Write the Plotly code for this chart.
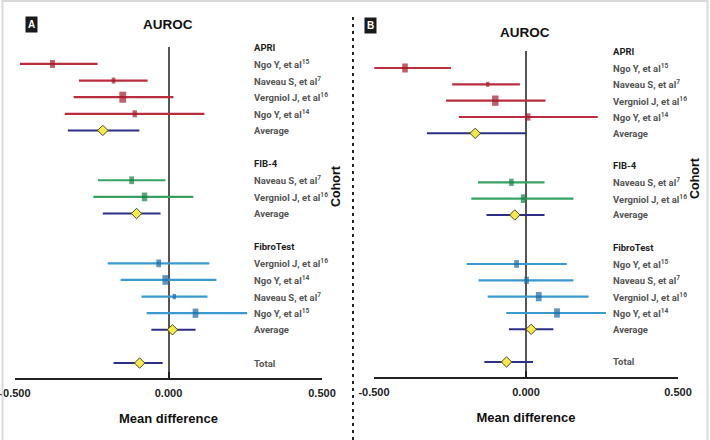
import plotly.graph_objects as go

# ---------------- DATA ----------------
groups = ["APRI", "FIB-4", "FibroTest"]

# Panel A
a_apri_study = ["Ngo Y, et al<sup>15</sup>", "Naveau S, et al<sup>7</sup>", "Vergniol J, et al<sup>16</sup>", "Ngo Y, et al<sup>14</sup>"]
a_apri_est = [-0.378, -0.179, -0.149, -0.110]
a_apri_lo = [-0.484, -0.292, -0.309, -0.338]
a_apri_hi = [-0.231, -0.068, 0.016, 0.117]
a_apri_w = [8, 6, 11, 7]
a_apri_avg = [-0.214, -0.328, -0.095]

a_fib4_study = ["Naveau S, et al<sup>7</sup>", "Vergniol J, et al<sup>16</sup>"]
a_fib4_est = [-0.120, -0.078]
a_fib4_lo = [-0.230, -0.245]
a_fib4_hi = [-0.010, 0.081]
a_fib4_w = [7.7, 8.7]
a_fib4_avg = [-0.104, -0.214, -0.026]

a_ft_study = ["Vergniol J, et al<sup>16</sup>", "Ngo Y, et al<sup>14</sup>", "Naveau S, et al<sup>7</sup>", "Ngo Y, et al<sup>15</sup>"]
a_ft_est = [-0.032, -0.010, 0.019, 0.088]
a_ft_lo = [-0.198, -0.156, -0.088, -0.071]
a_ft_hi = [0.133, 0.156, 0.127, 0.256]
a_ft_w = [7.7, 9.7, 5.3, 9.3]
a_ft_avg = [0.013, -0.056, 0.088]

a_total = [-0.094, -0.179, -0.019]

# Panel B
b_apri_study = ["Ngo Y, et al<sup>15</sup>", "Naveau S, et al<sup>7</sup>", "Vergniol J, et al<sup>16</sup>", "Ngo Y, et al<sup>14</sup>"]
b_apri_est = [-0.398, -0.126, -0.101, 0.007]
b_apri_lo = [-0.499, -0.243, -0.263, -0.221]
b_apri_hi = [-0.247, -0.020, 0.064, 0.236]
b_apri_w = [9, 5, 10.3, 7.3]
b_apri_avg = [-0.167, -0.326, 0.000]

b_fib4_study = ["Naveau S, et al<sup>7</sup>", "Vergniol J, et al<sup>16</sup>"]
b_fib4_est = [-0.048, -0.008]
b_fib4_lo = [-0.158, -0.180]
b_fib4_hi = [0.061, 0.156]
b_fib4_w = [7.3, 8.7]
b_fib4_avg = [-0.037, -0.130, 0.061]

b_ft_study = ["Ngo Y, et al<sup>15</sup>", "Naveau S, et al<sup>7</sup>", "Vergniol J, et al<sup>16</sup>", "Ngo Y, et al<sup>14</sup>"]
b_ft_est = [-0.031, 0.002, 0.042, 0.102]
b_ft_lo = [-0.195, -0.156, -0.126, -0.065]
b_ft_hi = [0.134, 0.156, 0.206, 0.263]
b_ft_w = [7.7, 7.3, 9.3, 9.3]
b_ft_avg = [0.017, -0.056, 0.090]

b_total = [-0.064, -0.137, 0.023]

tick_vals = [-0.5, 0.0, 0.5]
tick_text = ["-0.500", "0.000", "0.500"]

# ---------------- STYLE ----------------
W, H = 710, 440
line_col = {"APRI": "#b92d3c", "FIB-4": "#35a262", "FibroTest": "#3b99d0"}
mark_col = {"APRI": "#a11d2d", "FIB-4": "#1b7f45", "FibroTest": "#1c69a3"}
avg_col = "#2d2f86"
dia_col = "#f6e94a"
NARROW = "Roboto, Liberation Sans, sans-serif"
SANS = "Liberation Sans, Arial, Helvetica, sans-serif"

panels = [
    dict(xa="x", ya="y", data=[
        ("APRI", a_apri_study, a_apri_est, a_apri_lo, a_apri_hi, a_apri_w, a_apri_avg),
        ("FIB-4", a_fib4_study, a_fib4_est, a_fib4_lo, a_fib4_hi, a_fib4_w, a_fib4_avg),
        ("FibroTest", a_ft_study, a_ft_est, a_ft_lo, a_ft_hi, a_ft_w, a_ft_avg)],
        total=a_total, xdom=[15 / W, 322 / W], ydom=[1 - 378 / H, 1 - 47 / H], yr=[18.9, -1.02],
        labx=252 / W, cohort=(336 / W, 1 - 186 / H), title=(168 / W, 1 - 25 / H), tag="A", tagpos=(31.5 / W, 1 - 25 / H)),
    dict(xa="x2", ya="y2", data=[
        ("APRI", b_apri_study, b_apri_est, b_apri_lo, b_apri_hi, b_apri_w, b_apri_avg),
        ("FIB-4", b_fib4_study, b_fib4_est, b_fib4_lo, b_fib4_hi, b_fib4_w, b_fib4_avg),
        ("FibroTest", b_ft_study, b_ft_est, b_ft_lo, b_ft_hi, b_ft_w, b_ft_avg)],
        total=b_total, xdom=[374 / W, 678 / W], ydom=[1 - 377 / H, 1 - 51 / H], yr=[18.92, -1.04],
        labx=611 / W, cohort=(695 / W, 1 - 178 / H), title=(525 / W, 1 - 32 / H), tag="B", tagpos=(370 / W, 1 - 26 / H)),
]

fig = go.Figure()
annotations = []

def add_label(text, y, yref, x, bold_dark=False):
    annotations.append(dict(
        text=f"<b>{text}</b>", x=x, y=y, xref="paper", yref=yref, xanchor="left", yanchor="middle",
        showarrow=False, font=dict(family=NARROW, size=9.5, color="#1e1e1e" if bold_dark else "#555555")))

for p in panels:
    yref = p["ya"]
    start = 0
    avg_x, avg_y, avg_lo, avg_hi = [], [], [], []
    for g, studies, est, lo, hi, w, avg in p["data"]:
        rows = list(range(start, start + len(studies)))
        add_label(g, start - 1, yref, p["labx"], bold_dark=True)
        for s, r in zip(studies, rows):
            add_label(s, r, yref, p["labx"])
        heights = [v / 1.4 for v in w]
        widths = [max(3.3, 0.62 * v) for v in w]
        fig.add_trace(go.Scatter(
            x=est, y=rows, xaxis=p["xa"], yaxis=p["ya"], mode="markers",
            marker=dict(symbol="line-ns", size=heights, color=mark_col[g],
                        line=dict(width=widths, color=mark_col[g])),
            error_x=dict(type="data", symmetric=False,
                         array=[h - e for h, e in zip(hi, est)],
                         arrayminus=[e - l for e, l in zip(est, lo)],
                         color=line_col[g], thickness=2.2, width=0),
            showlegend=False, hoverinfo="skip"))
        avg_row = start + len(studies)
        add_label("Average", avg_row, yref, p["labx"])
        avg_x.append(avg[0]); avg_lo.append(avg[1]); avg_hi.append(avg[2]); avg_y.append(avg_row)
        start = avg_row + 3
    total_row = start - 1
    add_label("Total", total_row, yref, p["labx"])
    avg_x.append(p["total"][0]); avg_lo.append(p["total"][1]); avg_hi.append(p["total"][2]); avg_y.append(total_row)
    fig.add_trace(go.Scatter(
        x=avg_x, y=avg_y, xaxis=p["xa"], yaxis=p["ya"], mode="markers",
        marker=dict(symbol="diamond", size=8, color=dia_col, line=dict(width=1, color="#4a4a2a")),
        error_x=dict(type="data", symmetric=False,
                     array=[h - e for h, e in zip(avg_hi, avg_x)],
                     arrayminus=[e - l for e, l in zip(avg_x, avg_lo)],
                     color=avg_col, thickness=2, width=0),
        showlegend=False, hoverinfo="skip"))

    # titles / tags / cohort
    annotations.append(dict(text="<b>AUROC</b>", x=p["title"][0], y=p["title"][1], xref="paper", yref="paper",
                            xanchor="center", yanchor="middle",
                            showarrow=False, font=dict(family=SANS, size=13.5, color="#111")))
    annotations.append(dict(text=f"<b>{p['tag']}</b>", x=p["tagpos"][0], y=p["tagpos"][1], xref="paper", yref="paper",
                            xanchor="center", yanchor="middle",
                            showarrow=False, bgcolor="#1a1a1a", borderpad=2,
                            font=dict(family=SANS, size=10, color="white")))
    annotations.append(dict(text="<b>Cohort</b>", x=p["cohort"][0], y=p["cohort"][1], xref="paper", yref="paper",
                            xanchor="center", yanchor="middle",
                            showarrow=False, textangle=-90, font=dict(family=SANS, size=12.5, color="#111")))

axis_common = dict(range=[-0.5, 0.5], tickvals=tick_vals, ticktext=[f"<b>{t}</b>" for t in tick_text],
                   ticks="inside", ticklen=6,
                   tickwidth=1.5, tickcolor="#222", showline=True, linecolor="#222", linewidth=1.5,
                   showgrid=False, zeroline=True, zerolinecolor="#555", zerolinewidth=1.5, automargin=False,
                   ticklabelstandoff=4, ticklabeloverflow="allow",
                   tickfont=dict(family=SANS, size=11, color="#222"),
                   title=dict(text="<b>Mean difference</b>", font=dict(family=SANS, size=13, color="#111"), standoff=16))
yaxis_common = dict(showgrid=False, zeroline=False, showticklabels=False, showline=False, ticks="", automargin=False)

fig.update_layout(
    width=W, height=H, autosize=False, margin=dict(l=0, r=0, t=0, b=0, pad=0),
    paper_bgcolor="white", plot_bgcolor="white",
    xaxis=dict(domain=panels[0]["xdom"], anchor="y", **axis_common),
    xaxis2=dict(domain=panels[1]["xdom"], anchor="y2", **axis_common),
    yaxis=dict(domain=panels[0]["ydom"], range=panels[0]["yr"], anchor="x", **yaxis_common),
    yaxis2=dict(domain=panels[1]["ydom"], range=panels[1]["yr"], anchor="x2", **yaxis_common),
    annotations=annotations,
    shapes=[
        dict(type="rect", xref="paper", yref="paper", x0=2.5 / W, x1=707.5 / W, y0=-0.01, y1=1 - 1 / H,
             line=dict(color="#d9d9d9", width=2)),
        dict(type="line", xref="paper", yref="paper", x0=353 / W, x1=353 / W, y0=0, y1=1 - 15 / H,
             line=dict(color="#222", width=2, dash="3px,4px")),
    ],
)

fig.write_html("out.html", config={"displayModeBar": False},
               post_script="document.body.style.margin='0px';")
